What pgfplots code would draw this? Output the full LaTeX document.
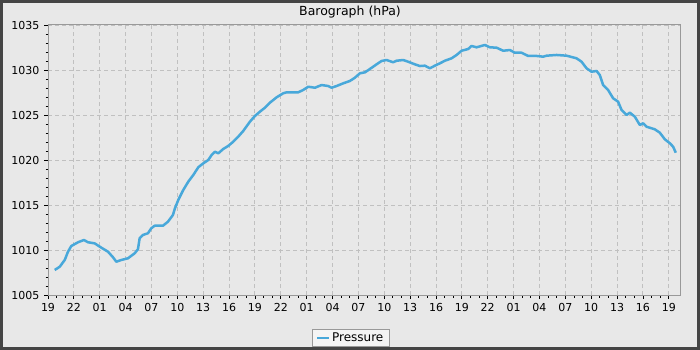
\documentclass[border=0pt]{standalone}
\usepackage{fontspec}
\setmainfont{DejaVu Sans}
\usepackage{pgfplots}
\pgfplotsset{compat=1.18}
\definecolor{bgc}{HTML}{E8E8E8}
\definecolor{framec}{HTML}{444444}
\definecolor{axc}{HTML}{999999}
\definecolor{gridc}{HTML}{C0C0C0}
\definecolor{linec}{HTML}{48A8DA}
\definecolor{legbg}{HTML}{F4F4F4}
\begin{document}
\begin{tikzpicture}[x=1pt,y=1pt]
\fill[bgc] (0,0) rectangle (700,350);
\useasboundingbox (0,0) rectangle (700,350);
\begin{axis}[
  at={(48pt,55pt)}, anchor=south west,
  scale only axis, width=632pt, height=270pt,
  xmin=0, xmax=73.3, ymin=1005, ymax=1035,
  xtick={0,3,...,72},
  xticklabels={19,22,01,04,07,10,13,16,19,22,01,04,07,10,13,16,19,22,01,04,07,10,13,16,19},
  ytick={1005,1010,...,1035},
  minor x tick num=2, minor y tick num=4,
  xtick pos=lower, ytick pos=left,
  tick align=outside,
  major tick length=4pt, minor tick length=2.5pt,
  tick style={black, line width=0.8pt},
  axis line style={axc, line width=1pt},
  grid=major,
  major grid style={gridc, line width=0.9pt, dash pattern=on 4pt off 3pt},
  axis background/.style={fill=bgc},
  /pgf/number format/assume math mode=true,
  ticklabel style={font=\fontsize{11}{13}\selectfont},
  yticklabel style={/pgf/number format/1000 sep={}, xshift=-1pt},
  xticklabel style={yshift=-1pt},
  legend style={at={(0.479,-0.126)}, anchor=north, fill=legbg, draw=axc,
    font=\fontsize{12}{14}\selectfont, inner xsep=4pt, inner ysep=1.2pt},
  legend cell align=left,
  legend image code/.code={\draw[linec, line width=2pt] (0pt,0pt) -- (12pt,0pt);},
]
\addplot[linec, line width=2.5pt, line join=round] table {
0.78 1007.78
1.36 1008.14
1.94 1008.89
2.32 1009.81
2.70 1010.44
3.48 1010.86
4.17 1011.11
4.64 1010.86
5.41 1010.74
6.18 1010.26
6.96 1009.81
7.54 1009.19
7.92 1008.70
8.50 1008.89
9.28 1009.08
10.05 1009.63
10.43 1010.08
10.63 1011.30
11.01 1011.67
11.59 1011.86
11.98 1012.41
12.37 1012.70
13.33 1012.70
13.91 1013.14
14.49 1013.89
14.72 1014.63
15.11 1015.56
15.69 1016.67
16.27 1017.59
16.85 1018.33
17.43 1019.19
18.01 1019.63
18.59 1020.00
18.98 1020.56
19.36 1020.92
19.75 1020.74
20.32 1021.22
20.90 1021.56
21.48 1022.03
22.06 1022.59
22.64 1023.22
23.42 1024.26
24.00 1024.89
24.58 1025.37
25.16 1025.81
25.74 1026.37
26.52 1026.97
27.28 1027.41
27.68 1027.52
29.02 1027.52
29.60 1027.78
30.18 1028.14
30.96 1028.03
31.73 1028.33
32.50 1028.22
32.89 1028.03
33.47 1028.22
34.24 1028.52
35.01 1028.78
35.59 1029.14
36.17 1029.63
36.75 1029.74
37.33 1030.11
38.11 1030.63
38.69 1031.00
39.27 1031.11
40.03 1030.86
40.43 1031.03
41.20 1031.11
41.77 1030.92
42.55 1030.63
43.13 1030.44
43.71 1030.48
44.29 1030.19
44.87 1030.48
45.45 1030.74
46.03 1031.03
46.81 1031.30
47.39 1031.67
47.97 1032.14
48.73 1032.33
49.12 1032.67
49.70 1032.52
50.67 1032.78
51.25 1032.52
52.02 1032.48
52.79 1032.14
53.57 1032.22
54.14 1031.92
54.92 1031.92
55.69 1031.56
56.66 1031.56
57.43 1031.48
57.82 1031.59
58.98 1031.67
60.14 1031.59
61.30 1031.30
61.88 1030.92
62.46 1030.19
63.04 1029.81
63.62 1029.89
64.00 1029.44
64.38 1028.33
64.96 1027.78
65.54 1026.86
66.12 1026.48
66.52 1025.56
67.10 1025.00
67.48 1025.26
68.06 1024.81
68.64 1023.89
69.02 1024.08
69.41 1023.70
70.38 1023.41
70.96 1023.03
71.54 1022.30
72.12 1021.86
72.50 1021.48
72.81 1020.81
};
\addlegendentry{Pressure}
\end{axis}
\node[font=\fontsize{12.5}{14}\selectfont] at (350,338) {Barograph (hPa)};
\draw[framec, line width=3pt] (1.5,1.5) rectangle (698.5,348.5);
\end{tikzpicture}
\end{document}
